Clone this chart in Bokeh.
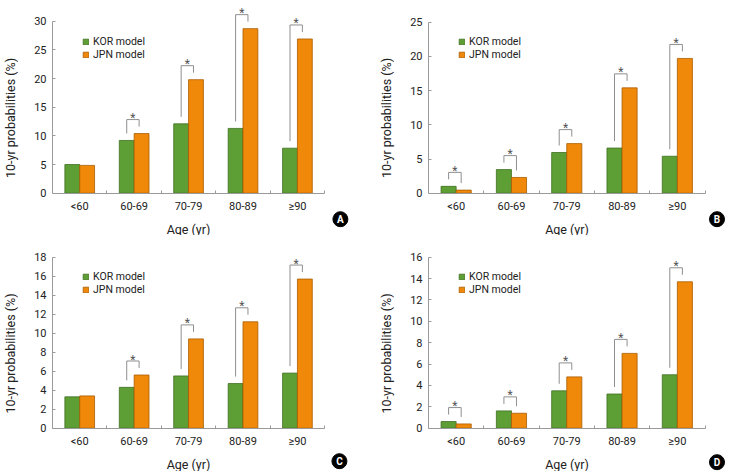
from bokeh.plotting import figure
from bokeh.layouts import gridplot
from bokeh.models import Range1d, FixedTicker, ColumnDataSource
from bokeh.core.properties import value
from bokeh.embed import file_html
from bokeh.resources import INLINE

# ---------------- data ----------------
age_groups = ["<60", "60-69", "70-79", "80-89", "\u226590"]

kor_A = [5.0, 9.2, 12.1, 11.3, 7.85]
jpn_A = [4.85, 10.4, 19.8, 28.7, 26.9]
sig_A = [False, True, True, True, True]
yticks_A = [0, 5, 10, 15, 20, 25, 30]

kor_B = [1.0, 3.45, 5.95, 6.6, 5.4]
jpn_B = [0.45, 2.3, 7.25, 15.4, 19.7]
sig_B = [True, True, True, True, True]
yticks_B = [0, 5, 10, 15, 20, 25]

kor_C = [3.3, 4.3, 5.5, 4.7, 5.8]
jpn_C = [3.4, 5.6, 9.4, 11.2, 15.7]
sig_C = [False, True, True, True, True]
yticks_C = [0, 2, 4, 6, 8, 10, 12, 14, 16, 18]

kor_D = [0.62, 1.62, 3.5, 3.2, 5.0]
jpn_D = [0.4, 1.4, 4.8, 7.0, 13.7]
sig_D = [True, True, True, True, True]
yticks_D = [0, 2, 4, 6, 8, 10, 12, 14, 16]

series_names = ["KOR model", "JPN model"]
y_title = "10-yr probabilities (%)"
x_title = "Age (yr)"
panel_letters = ["A", "B", "C", "D"]

# ---------------- style ----------------
FONT = "Roboto"
GREEN, GREEN_EDGE = "#5e9f35", "#3f6f22"
ORANGE, ORANGE_EDGE = "#f0890a", "#a85c00"
AXIS_COL = "#9a9a9a"
TEXT_COL = "#222222"

AXIS_W = 276.5      # px spanned by the 5 categories
BAR_W = 15 / 55.0   # width of one bar in category units


def make_panel(kor, jpn, sig, yticks, letter, width, height, bl,
               top_px, axis_h, badge_dx, badge_dy):
    n = len(age_groups)
    ymax = yticks[-1]
    ppu = axis_h / ymax
    ppx = AXIS_W / n
    frame_w = width - bl
    bottom_px = height - axis_h - top_px
    p = figure(width=width, height=height, output_backend="svg",
               toolbar_location=None,
               x_range=Range1d(0, frame_w / ppx),
               y_range=Range1d(-bottom_px / ppu, ymax + top_px / ppu),
               min_border_left=bl, min_border_right=0,
               min_border_top=0, min_border_bottom=0)
    p.outline_line_color = None
    p.xgrid.visible = False
    p.ygrid.visible = False

    centers = [i + 0.5 for i in range(n)]
    src = ColumnDataSource(dict(
        xk=[c - BAR_W / 2 for c in centers],
        xj=[c + BAR_W / 2 for c in centers],
        kor=kor, jpn=jpn))
    p.vbar(x="xk", top="kor", width=BAR_W, source=src, fill_color=GREEN,
           line_color=GREEN_EDGE, line_width=0.8, legend_label=series_names[0])
    p.vbar(x="xj", top="jpn", width=BAR_W, source=src, fill_color=ORANGE,
           line_color=ORANGE_EDGE, line_width=0.8, legend_label=series_names[1])

    # significance brackets
    xs, ys, ax, ay = [], [], [], []
    for c, k, j, s in zip(centers, kor, jpn, sig):
        if not s:
            continue
        xl = c - BAR_W / 2
        xr = c + BAR_W / 3
        top = max(k, j) + 14 / ppu
        xs.append([xl, xl, xr, xr])
        ys.append([k + 7 / ppu, top, top, j + 7 / ppu])
        ax.append((xl + xr) / 2)
        ay.append(top + 1.5 / ppu)
    p.multi_line(xs=xs, ys=ys, line_color="#8f8f8f", line_width=1)
    p.text(x=ax, y=ay, text=["*"] * len(ax), text_align="center",
           text_baseline="alphabetic", text_font=value(FONT),
           text_font_size="12px", text_color="#555555")

    # x axis fixed at y=0 so the frame can hold the panel badge
    xa = p.xaxis[0]
    xa.fixed_location = 0
    xa.bounds = (0, n)
    xa.ticker = FixedTicker(ticks=centers, minor_ticks=list(range(1, n + 1)))
    xa.major_label_overrides = {c: g for c, g in zip(centers, age_groups)}
    xa.major_tick_in = 0
    xa.major_tick_out = 0
    xa.minor_tick_in = 3
    xa.minor_tick_out = 0
    xa.minor_tick_line_color = AXIS_COL
    xa.axis_line_color = AXIS_COL
    xa.major_label_standoff = 7
    xa.axis_label = x_title
    xa.axis_label_standoff = 5

    ya = p.yaxis[0]
    ya.ticker = FixedTicker(ticks=yticks)
    ya.bounds = (0, ymax)
    ya.major_tick_in = 3
    ya.major_tick_out = 0
    ya.major_tick_line_color = AXIS_COL
    ya.minor_tick_line_color = None
    ya.axis_line_color = AXIS_COL
    ya.major_label_standoff = 6
    ya.axis_label = y_title
    ya.axis_label_standoff = 13

    for a in (xa, ya):
        a.major_label_text_font = FONT
        a.major_label_text_font_size = "11px"
        a.major_label_text_color = TEXT_COL
        a.axis_label_text_font = FONT
        a.axis_label_text_font_size = "12.5px"
        a.axis_label_text_font_style = "normal"
        a.axis_label_text_color = TEXT_COL

    # legend
    lg = p.legend[0]
    lg.location = (30, height - 61)
    lg.orientation = "vertical"
    lg.padding = 0
    lg.margin = 0
    lg.spacing = 0
    lg.glyph_width = 7
    lg.glyph_height = 7
    lg.label_height = 13
    lg.label_standoff = 4
    lg.label_text_font = FONT
    lg.label_text_font_size = "10.5px"
    lg.label_text_line_height = 1.0
    lg.label_text_color = TEXT_COL
    lg.background_fill_alpha = 0
    lg.border_line_color = None

    # panel letter badge
    bx = [n + badge_dx / ppx]
    by = [-badge_dy / ppu]
    p.scatter(x=bx, y=by, size=15, marker="circle", fill_color="black",
              line_color="black")
    p.text(x=bx, y=by, text=[letter], text_align="center",
           text_baseline="middle", text_color="white",
           text_font=value("Roboto"), text_font_style="bold",
           text_font_size="10px")
    return p


pA = make_panel(kor_A, jpn_A, sig_A, yticks_A, panel_letters[0], 365, 235, 47, 20.7, 172, 16, 26)
pB = make_panel(kor_B, jpn_B, sig_B, yticks_B, panel_letters[1], 366, 235, 63, 21.7, 171, 12, 26)
pC = make_panel(kor_C, jpn_C, sig_C, yticks_C, panel_letters[2], 365, 236, 47, 21.7, 171, 15, 33)
pD = make_panel(kor_D, jpn_D, sig_D, yticks_D, panel_letters[3], 366, 236, 63, 21.7, 171, 12, 34)

grid = gridplot([[pA, pB], [pC, pD]], toolbar_location=None)

open("out.html", "w").write(file_html(grid, INLINE))
